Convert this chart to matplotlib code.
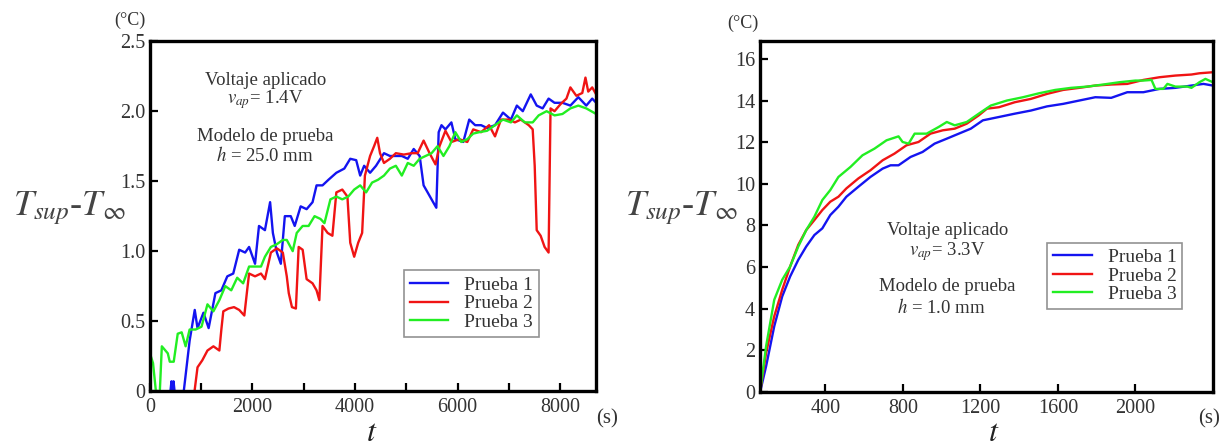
import matplotlib
matplotlib.use("Agg")
import matplotlib.pyplot as plt
from matplotlib.ticker import MultipleLocator, FixedLocator, FuncFormatter

plt.rcParams["font.family"] = ["Liberation Serif", "DejaVu Serif"]
plt.rcParams["mathtext.fontset"] = "stix"

# ---- Ensayo con h = 25.0 mm, v_ap = 1.4 V ----
t1_a = [400, 420, 440, 460, 480, 660, 774, 874, 928, 1044, 1145, 1277, 1393, 1509, 1625, 1741,
        1857, 1934, 2050, 2127, 2243, 2344, 2398, 2476, 2553, 2631, 2747, 2824, 2940, 3056,
        3172, 3250, 3366, 3482, 3636, 3791, 3907, 4023, 4101, 4178, 4294, 4410, 4565, 4681,
        4797, 4913, 5029, 5145, 5261, 5338, 5416, 5493, 5586, 5632, 5687, 5764, 5880, 5957,
        6112, 6228, 6344, 6460, 6576, 6731, 6886, 7041, 7157, 7273, 7428, 7544, 7660, 7776,
        7892, 8046, 8201, 8356, 8511, 8627, 8704]
T1_a = [0.0, 0.07, 0.0, 0.07, 0.0, 0.0, 0.36, 0.58, 0.45, 0.56, 0.45, 0.70, 0.72, 0.82, 0.84, 1.01,
        0.99, 1.03, 0.91, 1.18, 1.15, 1.35, 1.13, 0.99, 0.91, 1.25, 1.25, 1.18, 1.32, 1.30,
        1.35, 1.47, 1.47, 1.51, 1.56, 1.59, 1.66, 1.65, 1.54, 1.61, 1.56, 1.61, 1.70, 1.68,
        1.68, 1.68, 1.66, 1.73, 1.68, 1.47, 1.42, 1.37, 1.31, 1.85, 1.90, 1.87, 1.92, 1.80,
        1.78, 1.94, 1.90, 1.90, 1.88, 1.90, 1.99, 1.94, 2.04, 2.00, 2.12, 2.04, 2.02, 2.09,
        2.06, 2.06, 2.04, 2.10, 2.04, 2.09, 2.06]

t2_a = [870, 928, 1021, 1122, 1238, 1354, 1393, 1431, 1532, 1640, 1741, 1841, 1896, 1934, 2050,
        2166, 2243, 2359, 2476, 2592, 2669, 2708, 2770, 2847, 2901, 2979, 3056, 3172, 3250,
        3304, 3366, 3466, 3559, 3636, 3752, 3852, 3907, 3984, 4062, 4139, 4193, 4294, 4372,
        4434, 4488, 4565, 4681, 4797, 4952, 5106, 5222, 5338, 5454, 5570, 5648, 5764, 5880,
        6035, 6190, 6306, 6460, 6615, 6731, 6847, 7002, 7118, 7234, 7389, 7466, 7505, 7544,
        7621, 7698, 7776, 7814, 7892, 8008, 8124, 8201, 8317, 8433, 8495, 8549, 8627, 8704]
T2_a = [0.0, 0.17, 0.22, 0.29, 0.32, 0.29, 0.44, 0.57, 0.59, 0.60, 0.58, 0.54, 0.72, 0.84, 0.82,
        0.84, 0.80, 0.99, 1.02, 0.99, 0.82, 0.70, 0.60, 0.59, 1.03, 1.01, 0.80, 0.77, 0.72,
        0.65, 1.18, 1.13, 1.11, 1.42, 1.44, 1.39, 1.06, 0.96, 1.06, 1.13, 1.54, 1.68, 1.75,
        1.81, 1.70, 1.63, 1.66, 1.70, 1.69, 1.70, 1.70, 1.79, 1.70, 1.62, 1.75, 1.86, 1.78,
        1.80, 1.78, 1.87, 1.85, 1.90, 1.82, 1.94, 1.94, 1.92, 1.94, 1.90, 1.87, 1.61, 1.15,
        1.11, 1.03, 0.99, 2.02, 2.00, 2.05, 2.09, 2.17, 2.11, 2.13, 2.24, 2.14, 2.17, 2.12]

t3_a = [0, 60, 116, 193, 232, 348, 387, 464, 542, 619, 696, 774, 890, 1006, 1122, 1238, 1354,
        1470, 1586, 1702, 1818, 1934, 2050, 2166, 2243, 2359, 2476, 2592, 2669, 2785, 2863,
        2979, 3095, 3211, 3327, 3404, 3520, 3636, 3752, 3868, 3984, 4101, 4217, 4333, 4449,
        4565, 4681, 4797, 4913, 5029, 5145, 5261, 5377, 5493, 5609, 5725, 5841, 5957, 6073,
        6190, 6306, 6422, 6576, 6731, 6886, 7041, 7157, 7311, 7466, 7582, 7737, 7892, 8046,
        8201, 8356, 8511, 8704]
T3_a = [0.27, 0.20, 0.0, 0.0, 0.32, 0.27, 0.21, 0.21, 0.41, 0.42, 0.32, 0.44, 0.44, 0.46, 0.62,
        0.57, 0.65, 0.75, 0.72, 0.81, 0.77, 0.89, 0.89, 0.89, 0.96, 1.03, 1.05, 1.08, 1.08,
        1.00, 1.13, 1.18, 1.18, 1.25, 1.23, 1.20, 1.37, 1.39, 1.37, 1.39, 1.44, 1.47, 1.42,
        1.49, 1.51, 1.54, 1.59, 1.61, 1.54, 1.63, 1.61, 1.66, 1.68, 1.70, 1.75, 1.68, 1.75,
        1.85, 1.78, 1.80, 1.84, 1.85, 1.86, 1.90, 1.94, 1.92, 1.97, 1.92, 1.92, 1.97, 2.00,
        1.97, 1.98, 2.02, 2.04, 2.02, 1.98]

# ---- Ensayo con h = 1.0 mm, v_ap = 3.3 V ----
t1_b = [64, 95, 137, 178, 219, 261, 302, 344, 385, 426, 468, 509, 571, 633, 696, 737, 778, 840,
        902, 964, 1027, 1089, 1151, 1213, 1296, 1378, 1461, 1544, 1627, 1710, 1793, 1875,
        1958, 2041, 2124, 2206, 2289, 2351, 2399]
T1_b = [0.0, 1.24, 3.16, 4.59, 5.55, 6.35, 6.99, 7.54, 7.86, 8.50, 8.90, 9.38, 9.86, 10.33,
        10.73, 10.89, 10.89, 11.29, 11.53, 11.93, 12.17, 12.41, 12.65, 13.05, 13.21, 13.37,
        13.52, 13.72, 13.84, 14.00, 14.16, 14.13, 14.40, 14.40, 14.56, 14.61, 14.72, 14.80,
        14.72]

t2_b = [64, 95, 137, 178, 219, 261, 302, 344, 385, 426, 468, 509, 571, 633, 696, 757, 819, 881,
        943, 1006, 1068, 1130, 1192, 1234, 1296, 1378, 1461, 1544, 1627, 1710, 1793, 1875,
        1958, 2041, 2124, 2206, 2289, 2330, 2399]
T2_b = [0.0, 1.88, 3.64, 4.91, 6.03, 7.07, 7.78, 8.26, 8.74, 9.14, 9.38, 9.78, 10.26, 10.65,
        11.13, 11.45, 11.85, 12.01, 12.41, 12.57, 12.65, 12.89, 13.29, 13.61, 13.68, 13.92,
        14.08, 14.32, 14.51, 14.61, 14.72, 14.77, 14.80, 14.99, 15.12, 15.20, 15.25, 15.31,
        15.36]

t3_b = [64, 95, 137, 178, 219, 261, 302, 344, 385, 426, 468, 530, 592, 654, 716, 778, 799, 830,
        861, 923, 985, 1027, 1068, 1130, 1192, 1254, 1337, 1420, 1503, 1586, 1668, 1751, 1834,
        1917, 2000, 2041, 2083, 2103, 2144, 2165, 2206, 2268, 2289, 2330, 2361, 2399]
T3_b = [0.0, 2.20, 4.43, 5.39, 6.03, 6.99, 7.78, 8.42, 9.22, 9.70, 10.33, 10.81, 11.37, 11.69,
        12.09, 12.28, 12.01, 11.93, 12.41, 12.41, 12.73, 12.97, 12.81, 12.97, 13.37, 13.76,
        14.00, 14.16, 14.35, 14.51, 14.61, 14.67, 14.77, 14.88, 14.96, 14.96, 14.99, 14.56,
        14.56, 14.80, 14.67, 14.67, 14.61, 14.88, 15.04, 14.88]

series_names = ["Prueba 1", "Prueba 2", "Prueba 3"]
series_colors = ["#1414f0", "#f01414", "#22ee22"]

fig = plt.figure(figsize=(12.24, 4.48), dpi=100)
ax1 = fig.add_axes([0.1225, 0.127, 0.3644, 0.781])
ax2 = fig.add_axes([0.621, 0.125, 0.370, 0.783])

label_color = "#333333"
note_size = 13.5


def style_axes(ax):
    for sp in ax.spines.values():
        sp.set_linewidth(2.4)
        sp.set_color("black")
    ax.tick_params(axis="both", which="both", direction="in", length=6, width=1.6,
                   labelsize=14.5, colors="black", labelcolor=label_color,
                   top=False, right=False)
    ax.tick_params(axis="x", pad=5)


def add_legend(ax, anchor):
    leg = ax.legend(loc="upper left", bbox_to_anchor=anchor,
                    fontsize=14, frameon=True, fancybox=False, borderpad=0.3,
                    labelspacing=0.05, handlelength=2.0, handletextpad=0.8, borderaxespad=0)
    leg.get_frame().set_edgecolor("#777777")
    leg.get_frame().set_linewidth(1.2)
    for txt in leg.get_texts():
        txt.set_color(label_color)


# Panel izquierdo
for t, T, name, c in zip([t1_a, t2_a, t3_a], [T1_a, T2_a, T3_a], series_names, series_colors):
    ax1.plot(t, T, color=c, lw=1.7, label=name)
ax1.set_xlim(0, 8700)
ax1.set_ylim(0, 2.5)
ax1.xaxis.set_major_locator(MultipleLocator(2000))
ax1.xaxis.set_minor_locator(MultipleLocator(1000))
ax1.yaxis.set_major_locator(MultipleLocator(0.5))
ax1.yaxis.set_major_formatter(FuncFormatter(lambda v, p: "0" if v == 0 else f"{v:.1f}"))
style_axes(ax1)
ax1.text(2250, 2.22, "Voltaje aplicado", ha="center", va="center", fontsize=note_size, color=label_color)
ax1.text(2250, 2.08, r"$v_{ap}$= 1.4V", ha="center", va="center", fontsize=note_size, color=label_color)
ax1.text(2250, 1.82, "Modelo de prueba", ha="center", va="center", fontsize=note_size, color=label_color)
ax1.text(2250, 1.68, r"$h$ = 25.0 mm", ha="center", va="center", fontsize=note_size, color=label_color)
add_legend(ax1, (0.569, 0.345))

# Panel derecho
for t, T, name, c in zip([t1_b, t2_b, t3_b], [T1_b, T2_b, T3_b], series_names, series_colors):
    ax2.plot(t, T, color=c, lw=1.7, label=name)
ax2.set_xlim(64, 2400)
ax2.set_ylim(0, 16.85)
ax2.xaxis.set_major_locator(FixedLocator([400, 800, 1200, 1600, 2000]))
ax2.yaxis.set_major_locator(MultipleLocator(2))
style_axes(ax2)
ax2.text(1030, 7.78, "Voltaje aplicado", ha="center", va="center", fontsize=note_size, color=label_color)
ax2.text(1030, 6.75, r"$v_{ap}$= 3.3V", ha="center", va="center", fontsize=note_size, color=label_color)
ax2.text(1030, 5.07, "Modelo de prueba", ha="center", va="center", fontsize=note_size, color=label_color)
ax2.text(1000, 4.04, r"$h$ = 1.0 mm", ha="center", va="center", fontsize=note_size, color=label_color)
add_legend(ax2, (0.634, 0.426))

# Etiquetas de ejes
ylabel = r"$T_{sup}$-$T_{\infty}$"
fig.text(0.057, 0.535, ylabel, ha="center", va="center", fontsize=26, color="#444444")
fig.text(0.557, 0.535, ylabel, ha="center", va="center", fontsize=26, color="#444444")
fig.text(0.304, 0.0, r"$t$", ha="center", va="bottom", fontsize=23, color="#222222")
fig.text(0.812, 0.0, r"$t$", ha="center", va="bottom", fontsize=23, color="#222222")
fig.text(0.106, 0.955, "(°C)", ha="center", va="center", fontsize=13, color=label_color)
fig.text(0.607, 0.947, "(°C)", ha="center", va="center", fontsize=13, color=label_color)
fig.text(0.496, 0.065, "(s)", ha="center", va="center", fontsize=15, color=label_color)
fig.text(0.997, 0.065, "(s)", ha="right", va="center", fontsize=15, color=label_color)

fig.savefig("out.png", dpi=100, facecolor="white")
